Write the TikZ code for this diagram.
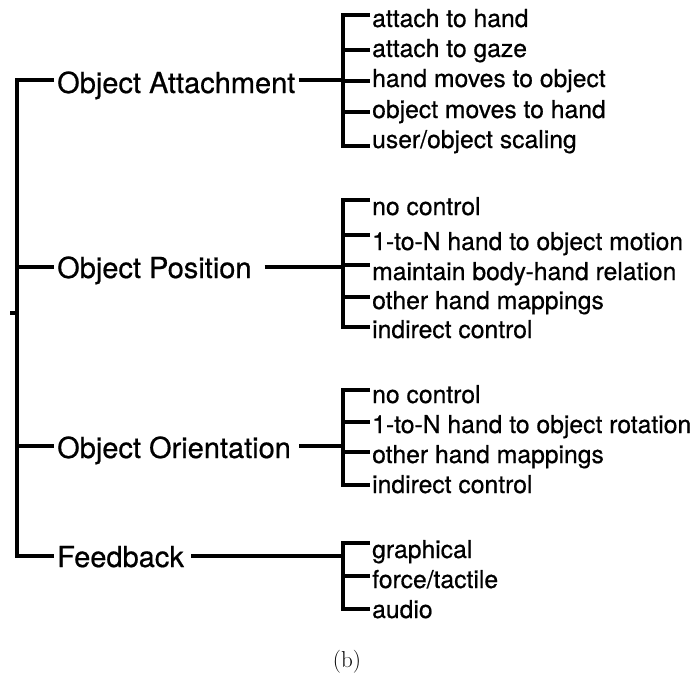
\documentclass[tikz,border=0pt]{standalone}
\usepackage{fontspec}
\newfontfamily\hel[FakeBold=0.6]{TeX Gyre Heros}
\begin{document}
\begin{tikzpicture}[x=1pt,y=-1pt,
  cat/.style={anchor=base west,inner xsep=3pt,inner ysep=0pt,font=\hel\fontsize{29}{34}\selectfont},
  leaf/.style={anchor=base west,inner xsep=2pt,inner ysep=0pt,font=\hel\fontsize{24.7}{29}\selectfont},
  link/.style={draw=black,line width=3.1pt}]
\useasboundingbox (0,0) rectangle (694,677);

% level 1
\coordinate (r1) at (17,80);
\coordinate (r2) at (17,267);
\coordinate (r3) at (17,446);
\coordinate (r4) at (17,556);
\coordinate (stub) at (10,313);
\node[cat] (L1) at (54,93) {Object Attachment};
\node[cat] (L2) at (54,278) {Object Position};
\node[cat] (L3) at (54,458) {Object Orientation};
\node[cat] (L4) at (54,567) {Feedback};
\draw[link] (r1 -| L1.west) -- (r1) -- (r4) -- (r4 -| L4.west);
\draw[link] (r2) -- (r2 -| L2.west);
\draw[link] (r3) -- (r3 -| L3.west);
\draw[link] (stub) -- (stub -| r1);

% group A
\coordinate (a1) at (343,15);
\coordinate (a2) at (343,50);
\coordinate (a3) at (343,81);
\coordinate (a4) at (343,112);
\coordinate (a5) at (343,146);
\node[leaf] (A1) at (370,27) {attach to hand};
\node[leaf] (A2) at (370,57) {attach to gaze};
\node[leaf] (A3) at (370,87) {hand moves to object};
\node[leaf] (A4) at (370,118) {object moves to hand};
\node[leaf] (A5) at (370,148) {user/object scaling};
\draw[link] (a1 -| A1.west) -- (a1) -- (a5) -- (a5 -| A5.west);
\foreach \i in {2,3,4} \draw[link] (a\i) -- (a\i -| A\i.west);
\draw[link] (L1.east |- r1) -- (a1 |- r1);

% group B
\coordinate (b1) at (343,200);
\coordinate (b2) at (343,235);
\coordinate (b3) at (343,265);
\coordinate (b4) at (343,297);
\coordinate (b5) at (343,327);
\node[leaf] (B1) at (370,215) {no control};
\node[leaf] (B2) at (370,250) {1-to-N hand to object motion};
\node[leaf] (B3) at (370,280) {maintain body-hand relation};
\node[leaf] (B4) at (370,309) {other hand mappings};
\node[leaf] (B5) at (370,338) {indirect control};
\draw[link] (b1 -| B1.west) -- (b1) -- (b5) -- (b5 -| B5.west);
\foreach \i in {2,3,4} \draw[link] (b\i) -- (b\i -| B\i.west);
\draw[link,shorten <=10pt] (L2.east |- r2) -- (b1 |- r2);

% group C
\coordinate (c1) at (343,390);
\coordinate (c2) at (343,422);
\coordinate (c3) at (343,452);
\coordinate (c4) at (343,485);
\node[leaf] (C1) at (370,403) {no control};
\node[leaf] (C2) at (370,433) {1-to-N hand to object rotation};
\node[leaf] (C3) at (370,463) {other hand mappings};
\node[leaf] (C4) at (370,493) {indirect control};
\draw[link] (c1 -| C1.west) -- (c1) -- (c4) -- (c4 -| C4.west);
\foreach \i in {2,3} \draw[link] (c\i) -- (c\i -| C\i.west);
\draw[link,shorten <=5pt] (L3.east |- r3) -- (c1 |- r3);

% group D
\coordinate (d1) at (343,543);
\coordinate (d2) at (343,576);
\coordinate (d3) at (343,609);
\node[leaf] (D1) at (370,558) {graphical};
\node[leaf] (D2) at (370,588) {force/tactile};
\node[leaf] (D3) at (370,618) {audio};
\draw[link] (d1 -| D1.west) -- (d1) -- (d3) -- (d3 -| D3.west);
\draw[link] (d2) -- (d2 -| D2.west);
\draw[link,shorten <=4pt] (L4.east |- r4) -- (d1 |- r4);

% caption
\node[anchor=base,inner sep=0pt,font=\fontsize{23}{28}\selectfont] (cap) at (347,667) {(b)};
\end{tikzpicture}
\end{document}
